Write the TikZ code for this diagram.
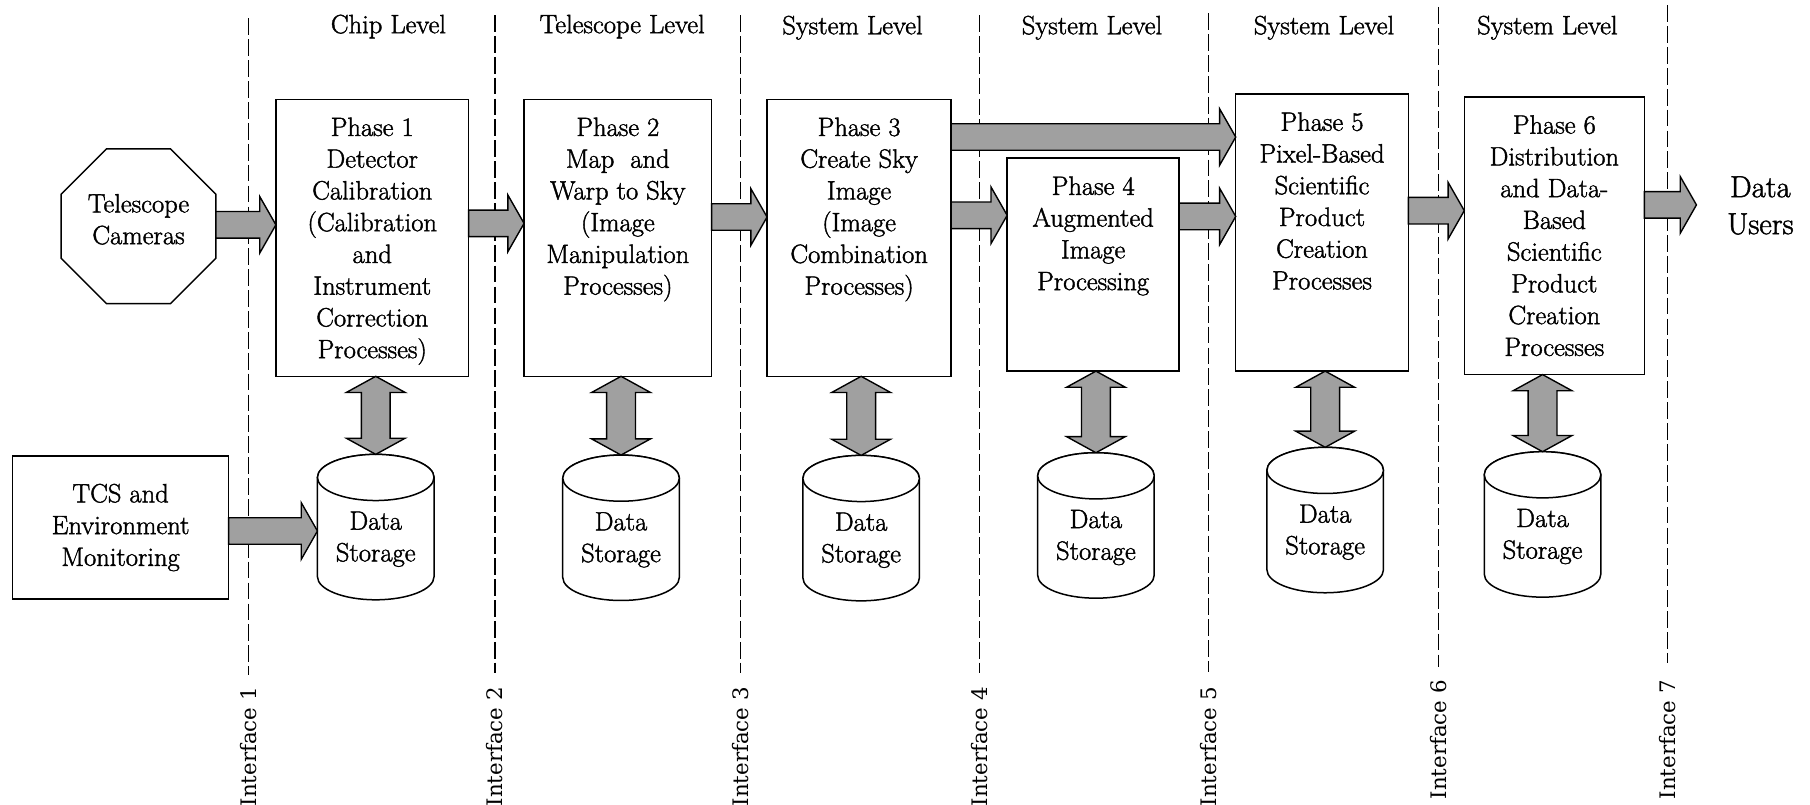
\documentclass[tikz,border=0pt]{standalone}
\usepackage{fontspec}
\setmainfont{Latin Modern Roman}[FakeBold=1.5]
\newfontfamily\labelfont{DejaVu Serif}
\usetikzlibrary{calc,shapes.geometric}
\definecolor{arrowgray}{RGB}{160,160,160}

% Block arrow from #1 (tail) to #2 (tip)
\newcommand\fatarrow[2]{%
  \path #1 coordinate (fa);
  \path #2 coordinate (fb);
  \path ($(fb)!14pt!(fa)$) coordinate (fh);
  \filldraw[blockarrow] ($(fa)!11.5pt!90:(fb)$) -- ($(fh)!11.5pt!90:(fb)$)
    -- ($(fh)!24.5pt!90:(fb)$) -- (fb) -- ($(fh)!24.5pt!-90:(fb)$)
    -- ($(fh)!11.5pt!-90:(fb)$) -- ($(fa)!11.5pt!-90:(fb)$) -- cycle;
}
% Double-headed block arrow between #1 and #2
\newcommand\fatdarrow[2]{%
  \path #1 coordinate (fa);
  \path #2 coordinate (fb);
  \path ($(fa)!14pt!(fb)$) coordinate (fha) ($(fb)!14pt!(fa)$) coordinate (fhb);
  \filldraw[blockarrow] (fa) -- ($(fha)!25.5pt!90:(fb)$) -- ($(fha)!12.5pt!90:(fb)$)
    -- ($(fhb)!12.5pt!-90:(fa)$) -- ($(fhb)!25.5pt!-90:(fa)$) -- (fb)
    -- ($(fhb)!25.5pt!90:(fa)$) -- ($(fhb)!12.5pt!90:(fa)$)
    -- ($(fha)!12.5pt!-90:(fb)$) -- ($(fha)!25.5pt!-90:(fb)$) -- cycle;
}
% Data storage cylinder: name, centre x, top y
\newcommand\datastore[3]{%
  \node[store, anchor=north] (#1) at (#2,#3) {};
  \filldraw[storeline] ([yshift=-20pt]#1.north west) -- ([yshift=20pt]#1.south west)
    arc[start angle=180, end angle=0, x radius=50.5, y radius=20]
    -- ([yshift=-20pt]#1.north east)
    arc[start angle=0, end angle=-180, x radius=50.5, y radius=20] -- cycle;
  \draw[storeline] ([yshift=-20pt]#1.north) ellipse[x radius=50.5, y radius=20];
  \node[body] (#1t) at ([yshift=-10.5pt]#1.center) {Data\\Storage};
}

\begin{document}
\begin{tikzpicture}[x=1pt, y=-1pt,
  box/.style={draw, line width=1.3pt, fill=white, inner sep=0pt, outer sep=0pt},
  body/.style={font=\fontsize{23}{27.5}\selectfont, align=center, inner sep=0pt},
  level/.style={font=\fontsize{23}{27.5}\selectfont, inner sep=0pt},
  ifline/.style={dash pattern=on 14.5pt off 3.6pt, line width=1.1pt},
  iflabel/.style={rotate=90, anchor=east, inner sep=0pt, font=\labelfont\fontsize{18.5}{20}\selectfont},
  blockarrow/.style={fill=arrowgray, draw=black, line width=1.2pt, line join=miter},
  store/.style={inner sep=0pt, outer sep=0pt, minimum width=101pt, minimum height=126pt},
  storeline/.style={line width=1.3pt, fill=white}]
\useasboundingbox (0,0) rectangle (1568,697);

% interface boundaries
\foreach \n/\x/\t/\b/\l in {1/215.4/16/585/595, 2/428.7/13/583/595, 3/641.5/13/583/595,
    4/848.6/13/583/595, 5/1047.2/11.5/582/595, 6/1246.3/6/577.6/589, 7/1444.4/4.5/574/589}{
  \draw[ifline] (\x,\t) -- (\x,\b);
  \node[iflabel] (if\n) at (\x,\l) {Interface \n};
}

% level headings
\node[level] (lv1) at (336.5,23) {Chip Level};
\node[level] (lv2) at (539,23) {Telescope Level};
\node[level] (lv3) at (738.5,24) {System Level};
\node[level] (lv4) at (946,24) {System Level};
\node[level] (lv5) at (1147,24) {System Level};
\node[level] (lv6) at (1340.5,24) {System Level};

% sources
\node[box, regular polygon, regular polygon sides=8, minimum size=145pt] (cam) at (120,196) {};
\node[body] (camt) at (120,190) {Telescope\\Cameras};
\node[box, body, anchor=north west, minimum width=187pt, minimum height=124pt] (tcs) at (11,395)
  {TCS and\\Environment\\Monitoring};

% processing phases
\node[box, anchor=north west, minimum width=167pt, minimum height=240pt] (p1) at (239,86) {};
\node[body, anchor=north] (p1t) at ([yshift=-12.6pt]p1.north)
  {\rule{0pt}{19pt}Phase 1\\Detector\\Calibration\\(Calibration\\and\\Instrument\\Correction\\Processes)};
\node[box, anchor=north west, minimum width=162.5pt, minimum height=240pt] (p2) at (454,86) {};
\node[body, anchor=north] (p2t) at ([yshift=-12.6pt]p2.north)
  {\rule{0pt}{19pt}Phase 2\\Map\ \ and\\Warp to Sky\\(Image\\Manipulation\\Processes)};
\node[box, anchor=north west, minimum width=159.5pt, minimum height=240pt] (p3) at (664.5,86) {};
\node[body, anchor=north] (p3t) at ([yshift=-12.6pt]p3.north)
  {\rule{0pt}{19pt}Phase 3\\Create Sky\\Image\\(Image\\Combination\\Processes)};
\node[box, anchor=north west, minimum width=149pt, minimum height=184.5pt] (p4) at (872.5,137) {};
\node[body, anchor=north] (p4t) at ([yshift=-12.6pt]p4.north)
  {\rule{0pt}{19pt}Phase 4\\Augmented\\Image\\Processing};
\node[box, anchor=north west, minimum width=149.5pt, minimum height=240pt] (p5) at (1070.5,81.5) {};
\node[body, anchor=north] (p5t) at ([yshift=-12.6pt]p5.north)
  {\rule{0pt}{19pt}Phase 5\\Pixel-Based\\Scientific\\Product\\Creation\\Processes};
\node[box, anchor=north west, minimum width=156pt, minimum height=240.5pt] (p6) at (1268.5,84) {};
\node[body, anchor=north] (p6t) at ([yshift=-12.6pt]p6.north)
  {\rule{0pt}{19pt}Phase 6\\Distribution\\and Data-\\Based\\Scientific\\Product\\Creation\\Processes};

\node[align=center, inner sep=0pt, font=\fontsize{26.5}{32}\selectfont] (users) at (1525,178) {Data\\Users};
\coordinate (usertip) at (1469.6,177.5);

% data stores
\datastore{c1}{325.5}{393.6}
\datastore{c2}{538}{394.2}
\datastore{c3}{746}{394.5}
\datastore{c4}{949.4}{392.2}
\datastore{c5}{1148}{387.5}
\datastore{c6}{1336.3}{391.3}

% data flow
\fatarrow{([yshift=1.25pt]cam.east)}{(p1.west |- fa)}
\fatarrow{([yshift=12.5pt]p1.east)}{(p2.west |- fa)}
\fatarrow{([yshift=18pt]p2.east)}{(p3.west |- fa)}
\fatarrow{([yshift=87.3pt]p3.east)}{(p5.west |- fa)}
\fatarrow{([yshift=19.5pt]p3.east)}{(p4.west |- fa)}
\fatarrow{([yshift=41.75pt]p4.east)}{(p5.west |- fa)}
\fatarrow{([yshift=19pt]p5.east)}{(p6.west |- fa)}
\fatarrow{([yshift=26.75pt]p6.east)}{(usertip |- fa)}
\fatarrow{([yshift=-3pt]tcs.east)}{(c1.west |- fa)}

% storage links
\fatdarrow{(p1.south -| c1.north)}{(c1.north)}
\fatdarrow{(p2.south -| c2.north)}{(c2.north)}
\fatdarrow{(p3.south -| c3.north)}{(c3.north)}
\fatdarrow{(p4.south -| c4.north)}{(c4.north)}
\fatdarrow{(p5.south -| c5.north)}{(c5.north)}
\fatdarrow{(p6.south -| c6.north)}{(c6.north)}
\end{tikzpicture}
\end{document}
